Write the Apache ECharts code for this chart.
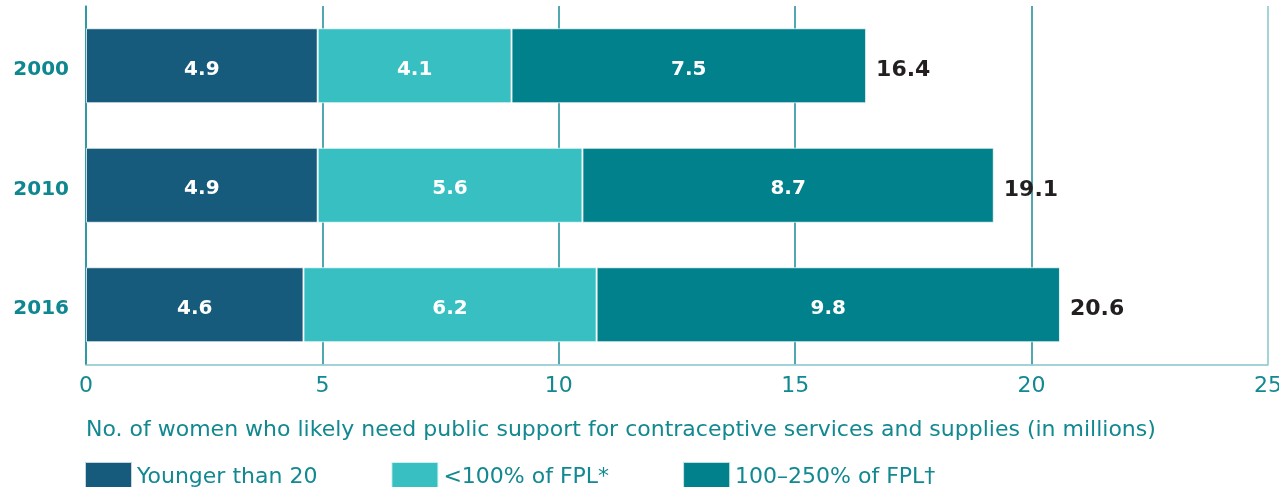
<!DOCTYPE html>
<html>
<head>
<meta charset="utf-8">
<script src="https://cdn.jsdelivr.net/npm/echarts@6/dist/echarts.min.js"></script>
<style>
  html, body { margin: 0; padding: 0; background: #fff; }
  #chart { width: 1279px; height: 487px; }
</style>
</head>
<body>
<div id="chart"></div>
<script>
const years = ['2000', '2010', '2016'];
const younger20 = [4.9, 4.9, 4.6];
const under100 = [4.1, 5.6, 6.2];
const fpl100to250 = [7.5, 8.7, 9.8];
const totals = ['16.4', '19.1', '20.6'];
const xTicks = [0, 5, 10, 15, 20, 25];

const font = 'DejaVu Sans';
const teal = '#128891';

const chart = echarts.init(document.getElementById('chart'));

const segLabel = {
  show: true,
  position: 'inside',
  color: '#fff',
  fontFamily: font,
  fontWeight: 'bold',
  fontSize: 20,
  offset: [0, 4],
  formatter: p => p.value.toFixed(1)
};

const segment = (name, data, color) => ({
  name: name,
  type: 'bar',
  stack: 'women',
  barWidth: 75,
  data: data,
  itemStyle: { color: color, borderColor: 'rgba(255,255,255,0.75)', borderWidth: 1 },
  label: segLabel,
  emphasis: { disabled: true }
});

const option = {
  animation: false,
  textStyle: { fontFamily: font },
  grid: { left: 86, right: 11, top: 6, bottom: 122.5, outerBoundsMode: 'none' },
  title: {
    text: 'No. of women who likely need public support for contraceptive services and supplies (in millions)',
    left: 81,
    top: 414,
    textStyle: { color: teal, fontFamily: font, fontWeight: 'normal', fontSize: 22 }
  },
  legend: {
    data: ['Younger than 20', '<100% of FPL*', '100–250% of FPL†'],
    left: 79,
    top: 456,
    itemWidth: 47,
    itemHeight: 30,
    itemGap: 73,
    itemTextGap: 13,
    icon: 'rect',
    textStyle: { color: teal, fontFamily: font, fontSize: 22 }
  },
  xAxis: {
    type: 'value',
    min: xTicks[0],
    max: xTicks[xTicks.length - 1],
    interval: 5,
    axisLine: { show: true, lineStyle: { color: '#84c6ca', width: 1.5 } },
    axisTick: { show: false },
    axisLabel: { color: teal, fontFamily: font, fontSize: 22, margin: 11 },
    splitLine: {
      show: true,
      lineStyle: { color: ['#1a8a94', '#1a8a94', '#1a8a94', '#1a8a94', '#1a8a94', '#84c6ca'], width: 1.5 }
    }
  },
  yAxis: {
    type: 'category',
    inverse: true,
    data: years,
    axisLine: { show: true, lineStyle: { color: '#2596a0', width: 1.5 } },
    axisTick: { show: false },
    axisLabel: {
      color: '#0e8790',
      fontFamily: font,
      fontWeight: 'bold',
      fontSize: 20,
      margin: 17,
      verticalAlign: 'top',
      lineHeight: 9
    }
  },
  series: [
    segment('Younger than 20', younger20, '#165a7c'),
    segment('<100% of FPL*', under100, '#37bfc2'),
    segment('100–250% of FPL†', fpl100to250, '#00818b'),
    {
      name: 'total',
      type: 'bar',
      stack: 'women',
      barWidth: 75,
      data: years.map(() => 0),
      itemStyle: { color: 'transparent' },
      label: {
        show: true,
        position: 'right',
        distance: 10,
        color: '#231f20',
        fontFamily: font,
        fontWeight: 'bold',
        fontSize: 22,
        offset: [0, 5],
        formatter: p => totals[p.dataIndex]
      },
      emphasis: { disabled: true }
    }
  ]
};

chart.setOption(option);
window.addEventListener('resize', () => chart && chart.resize());
</script>
</body>
</html>
